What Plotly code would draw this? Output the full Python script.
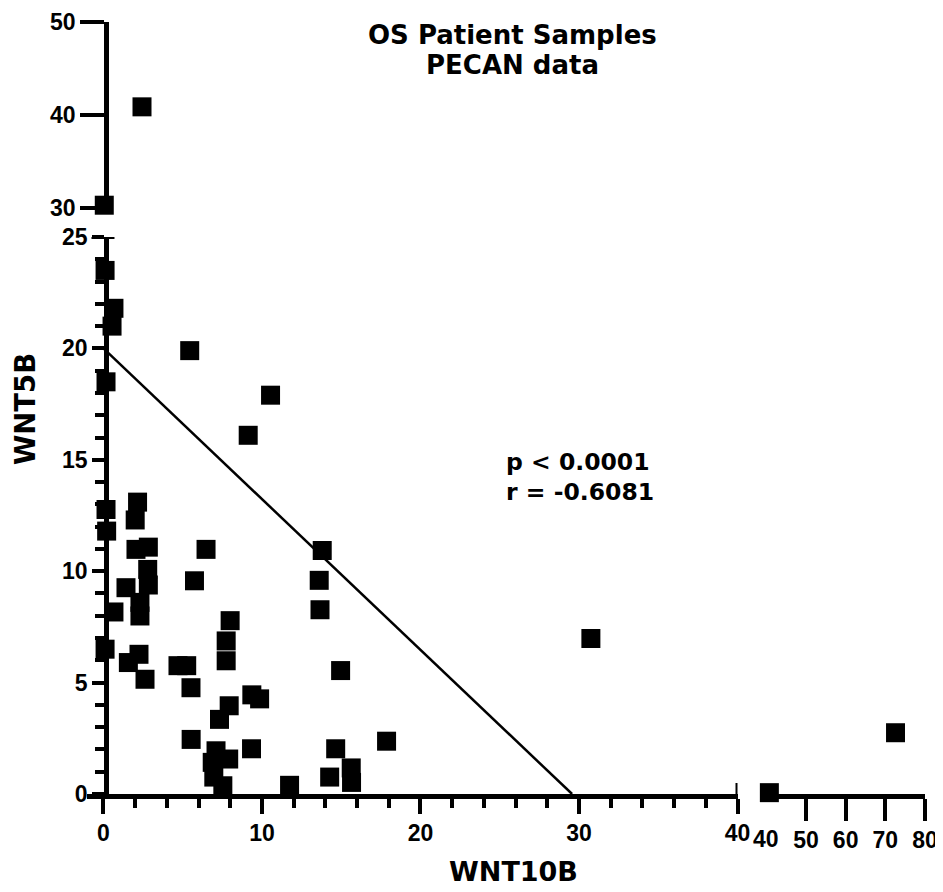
import plotly.graph_objects as go

# ---------------- data ----------------
wnt10b = [0.10, 0.66, 0.54, 0.16, 5.44, 10.54, 9.13, 0.16, 0.20, 2.15, 2.00,
          2.05, 2.83, 2.79, 2.83, 1.42, 2.30, 2.30, 0.66, 0.10, 1.57, 2.24,
          2.62, 4.70, 5.25, 5.52, 5.53, 6.47, 5.74, 7.99, 7.74, 7.74, 7.93,
          7.32, 9.36, 9.85, 9.34, 7.10, 7.90, 6.86, 6.96, 7.53, 11.74, 13.80,
          13.61, 13.66, 14.96, 14.65, 14.27, 15.63, 15.65, 17.86, 30.75,
          40.76, 72.57, 2.43, 0.05]
wnt5b = [23.50, 21.80, 21.00, 18.50, 19.90, 17.90, 16.10, 12.77, 11.80, 13.10,
         12.30, 10.98, 11.08, 10.08, 9.38, 9.26, 8.60, 7.99, 8.17, 6.50, 5.90,
         6.27, 5.15, 5.76, 5.76, 4.77, 2.45, 10.98, 9.57, 7.78, 6.87, 5.98,
         3.96, 3.35, 4.45, 4.27, 2.03, 1.94, 1.57, 1.42, 0.76, 0.37, 0.39,
         10.93, 9.59, 8.27, 5.54, 2.03, 0.76, 1.17, 0.52, 2.37, 6.98,
         0.06, 2.75, 40.86, 30.30]

fit_intercept = 20.0
fit_slope = -0.6765

x_break = [38.4, 40.0]   # start of upper x segment range / its first tick
y_break = [25.0, 30.0]   # top of lower y segment / bottom of upper y segment

x_major_low = [0, 10, 20, 30, 40]
x_major_high = [50, 60, 70, 80]
y_major_low = [0, 5, 10, 15, 20, 25]
y_major_high = [30, 40, 50]

title_lines = ["OS Patient Samples", "PECAN data"]
stats_lines = ["p &lt; 0.0001", "r = -0.6081"]
x_title = "WNT10B"
y_title = "WNT5B"

# ---------------- layout helpers ----------------
OFF = 8                      # page body margin in the browser
FW, FH = 943 - OFF, 892 - OFF
FONT = "Liberation Sans, Arial, Helvetica, sans-serif"
FONT_WIDE = "DejaVu Sans, Liberation Sans, sans-serif"


def fx(p):
    return (p - OFF) / FW


def fy(p):
    return 1 - (p - OFF) / FH


main_x, main_y, right_x, right_y, top_x, top_y = [], [], [], [], [], []
for xv, yv in zip(wnt10b, wnt5b):
    if xv > x_break[0]:
        right_x.append(xv); right_y.append(yv)
    elif yv > y_break[0] + 2:
        top_x.append(xv); top_y.append(yv)
    else:
        main_x.append(xv); main_y.append(yv)

x_end = -fit_intercept / fit_slope
line_x = [0, x_end]
line_y = [fit_intercept + fit_slope * v for v in line_x]

marker = dict(symbol="square", size=19, color="black", line=dict(width=0))

fig = go.Figure()
fig.add_trace(go.Scatter(x=main_x, y=main_y, mode="markers", marker=marker,
                         xaxis="x", yaxis="y", cliponaxis=False, showlegend=False))
fig.add_trace(go.Scatter(x=right_x, y=right_y, mode="markers", marker=marker,
                         xaxis="x2", yaxis="y", cliponaxis=False, showlegend=False))
fig.add_trace(go.Scatter(x=top_x, y=top_y, mode="markers", marker=marker,
                         xaxis="x", yaxis="y2", cliponaxis=False, showlegend=False))
fig.add_trace(go.Scatter(x=line_x, y=line_y, mode="lines",
                         line=dict(color="black", width=2.5),
                         xaxis="x", yaxis="y", cliponaxis=False, showlegend=False))

tickfont = dict(family=FONT, size=23, color="black", weight="bold")
common = dict(showgrid=False, zeroline=False, showline=True, linecolor="black",
              linewidth=4.5, ticks="outside", tickcolor="black", tickwidth=4,
              tickfont=tickfont, fixedrange=True, automargin=False)

x_dom = [fx(87), fx(737.5)]
x_rng = [-1.04, 40]
x2_dom = [fx(760), fx(925)]
x2_rng = [x_break[0], 80]
y_dom = [fy(794), fy(237)]
y_rng = [0, y_break[0]]
y2_dom = [fy(208), fy(21.7)]
y2_rng = [y_break[1], 50]
y_pos = fx(106)

fig.update_layout(
    width=FW, height=FH,
    margin=dict(l=0, r=0, t=0, b=0, autoexpand=False),
    paper_bgcolor="white", plot_bgcolor="white",
    xaxis=dict(**common, domain=x_dom, range=x_rng, anchor="y",
               tickmode="array", tickvals=x_major_low, ticklen=15,
               minor=dict(dtick=2, tick0=0, ticks="outside", ticklen=9,
                          tickwidth=4, tickcolor="black")),
    xaxis2=dict(**common, domain=x2_dom, range=x2_rng, anchor="y",
                tickmode="array", tickvals=x_major_high, ticklen=22),
    yaxis=dict(**common, domain=y_dom, range=y_rng, anchor="free", position=y_pos,
               tickmode="array", tickvals=y_major_low, ticklen=12,
               minor=dict(dtick=1, tick0=0, ticks="outside", ticklen=9,
                          tickwidth=4, tickcolor="black")),
    yaxis2=dict(**common, domain=y2_dom, range=y2_rng, anchor="free", position=y_pos,
                tickmode="array", tickvals=y_major_high, ticklen=24),
)

# axis end caps and the short first tick of the upper x segment
shapes = [
    dict(type="line", xref="x", yref="y", xsizemode="pixel", xanchor=0,
         x0=-12, x1=11, y0=y_major_low[-1], y1=y_major_low[-1],
         line=dict(color="black", width=4)),
    dict(type="line", xref="x", yref="y", ysizemode="pixel", yanchor=0,
         x0=x_major_low[-1], x1=x_major_low[-1], y0=-14, y1=11,
         line=dict(color="black", width=4)),
    dict(type="line", xref="x2", yref="y", ysizemode="pixel", yanchor=0,
         x0=x_break[1], x1=x_break[1], y0=0, y1=-12,
         line=dict(color="black", width=4)),
]
fig.update_layout(shapes=shapes)

ann_font = dict(color="black", weight="bold")
annotations = [
    dict(text=title_lines[0], x=fx(512), y=fy(35), xref="paper", yref="paper",
         xanchor="center", yanchor="middle",
         font=dict(**ann_font, family=FONT_WIDE, size=26)),
    dict(text=title_lines[1], x=fx(512.5), y=fy(65), xref="paper", yref="paper",
         xanchor="center", yanchor="middle",
         font=dict(**ann_font, family=FONT_WIDE, size=26)),
    dict(text=stats_lines[0], x=fx(504), y=fy(462), xref="paper", yref="paper",
         xanchor="left", yanchor="middle",
         font=dict(**ann_font, family=FONT_WIDE, size=23.5)),
    dict(text=stats_lines[1], x=fx(504), y=fy(492), xref="paper", yref="paper",
         xanchor="left", yanchor="middle",
         font=dict(**ann_font, family=FONT_WIDE, size=23.5)),
    dict(text=x_title, x=fx(514), y=fy(871), xref="paper", yref="paper",
         xanchor="center", yanchor="middle",
         font=dict(**ann_font, family=FONT_WIDE, size=27)),
    dict(text=y_title, x=fx(25), y=fy(409), xref="paper", yref="paper",
         xanchor="center", yanchor="middle", textangle=-90,
         font=dict(**ann_font, family=FONT_WIDE, size=27.5)),
    dict(text=str(int(x_break[1])), x=x_break[1], xref="x2", y=fy(839), yref="paper",
         xanchor="center", yanchor="middle",
         font=dict(**ann_font, family=FONT, size=23)),
]
for a in annotations:
    a.update(showarrow=False)
fig.update_layout(annotations=annotations)

fig.write_html("out.html")
